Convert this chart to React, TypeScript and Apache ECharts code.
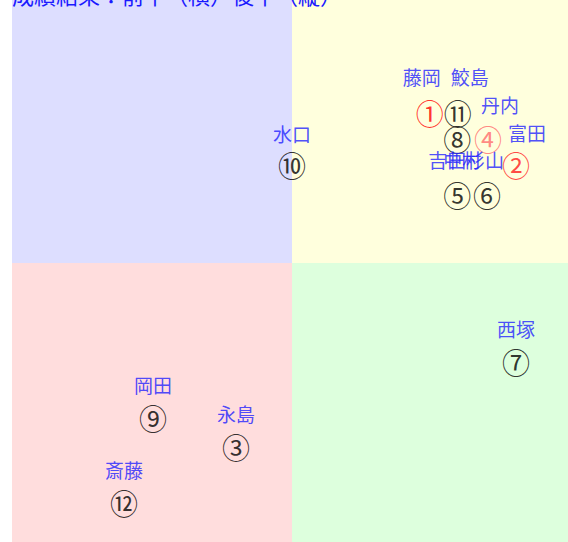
import React, { useEffect, useRef } from "react";
import * as echarts from "echarts";

const titleText = "成績結果：前半（横）後半（縦）";
const marks = ["①", "②", "③", "④", "⑤", "⑥", "⑦", "⑧", "⑨", "⑩", "⑪", "⑫"];
const names = ["藤岡", "富田", "永島", "丹内", "吉田", "杉山", "西塚", "中村", "岡田", "水口", "鮫島", "斎藤"];
const firstHalf = [74.6, 90.0, 40.0, 85.0, 79.5, 84.8, 90.0, 79.5, 25.2, 50.0, 79.6, 20.0];
const secondHalf = [76.8, 67.5, 17.1, 72.1, 62.1, 62.1, 32.3, 72.1, 22.3, 67.5, 76.8, 7.1];
const axisMin = 0;
const axisMid = 50;
const axisMax = 100;

// styling only
const markColor: Record<string, string> = { "①": "#ff0000", "②": "#ff1a1a", "④": "#ff6b6b" };
const nameShift: Record<string, [number, number]> = {
  藤岡: [-8, -36],
  鮫島: [12, -36],
  丹内: [12, -35],
  富田: [11, -33],
  水口: [0, -32],
  吉田: [-10, -36],
  中村: [5, 20],
  杉山: [-2, -36],
};

export default function App() {
  const ref = useRef<HTMLDivElement>(null);
  useEffect(() => {
    if (!ref.current) return;
    const chart = echarts.init(ref.current, undefined, { renderer: "svg" });
    const pts = firstHalf.map((x, i) => [x, secondHalf[i]]);
    chart.setOption({
      animation: false,
      backgroundColor: "#ffffff",
      grid: { left: 12, right: 0, top: 0, bottom: 0 },
      xAxis: { type: "value", min: axisMin, max: axisMax, show: false, splitLine: { show: false } },
      yAxis: { type: "value", min: axisMin, max: axisMax, show: false, splitLine: { show: false } },
      graphic: [
        {
          type: "text",
          left: 12,
          top: 0,
          z: 10,
          style: { text: titleText, fontSize: 22, fill: "#1a1aff", fontFamily: "Noto Sans CJK JP" },
        },
      ],
      series: [
        {
          type: "scatter",
          symbolSize: 0,
          itemStyle: { color: "rgba(0,0,0,0)" },
          silent: true,
          z: 3,
          data: pts.map((p, i) => ({
            value: p,
            label: {
              show: true,
              position: "inside",
              formatter: marks[i],
              fontSize: 28,
              fontFamily: "Noto Sans CJK JP, serif",
              color: markColor[marks[i]] || "#000000",
            },
          })),
          markArea: {
            silent: true,
            data: [
              [{ xAxis: axisMin, yAxis: axisMid, itemStyle: { color: "#dddeff" } }, { xAxis: axisMid, yAxis: axisMax }],
              [{ xAxis: axisMid, yAxis: axisMid, itemStyle: { color: "#ffffdd" } }, { xAxis: axisMax, yAxis: axisMax }],
              [{ xAxis: axisMin, yAxis: axisMin, itemStyle: { color: "#ffdddd" } }, { xAxis: axisMid, yAxis: axisMid }],
              [{ xAxis: axisMid, yAxis: axisMin, itemStyle: { color: "#ddffdd" } }, { xAxis: axisMax, yAxis: axisMid }],
            ],
          },
        },
        {
          type: "scatter",
          symbolSize: 0,
          itemStyle: { color: "rgba(0,0,0,0)" },
          silent: true,
          z: 4,
          data: pts.map((p, i) => ({
            value: p,
            label: {
              show: true,
              position: "inside",
              formatter: names[i],
              offset: nameShift[names[i]] || [0, -34],
              fontSize: 19,
              fontFamily: "Noto Sans CJK JP, sans-serif",
              color: "#2222ff",
            },
          })),
        },
      ],
    });
    return () => chart.dispose();
  }, []);
  return (
    <div style={{ position: "absolute", left: 0, top: 0, width: 568, height: 542, overflow: "hidden" }}>
      <div ref={ref} style={{ position: "absolute", left: 0, top: -17, width: 572, height: 560 }} />
    </div>
  );
}
